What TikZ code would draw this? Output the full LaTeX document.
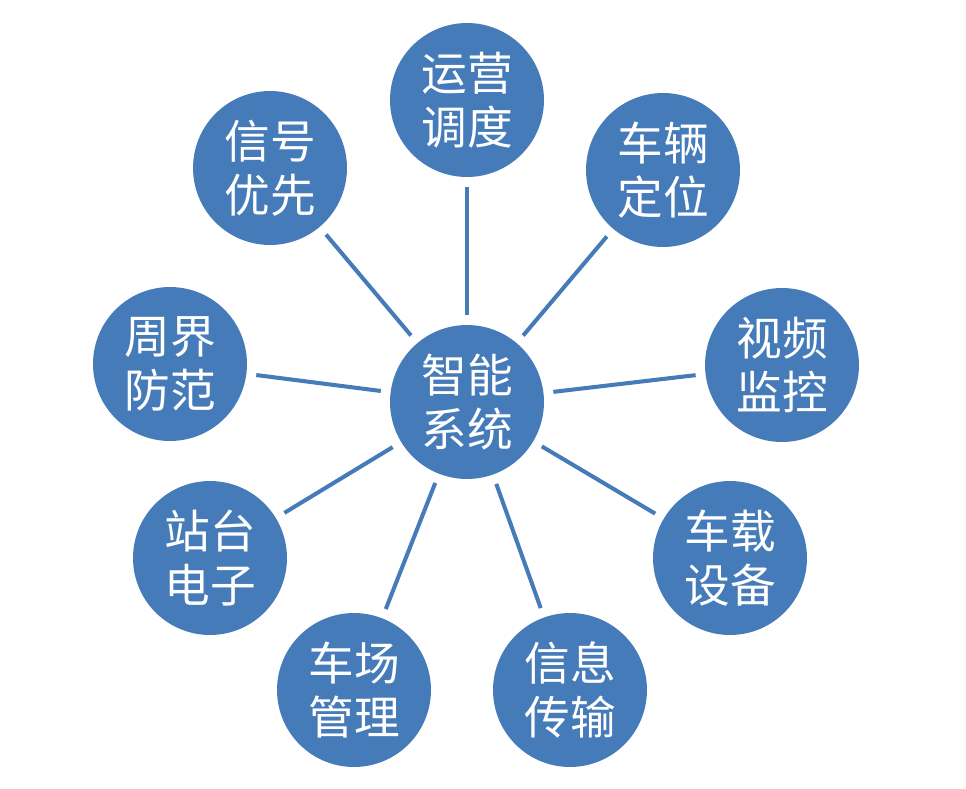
\documentclass[tikz,border=0pt]{standalone}
\usepackage{fontspec}
\newfontfamily\cjk{Noto Sans CJK SC}
\definecolor{hub-blue}{RGB}{70,123,186}
\usetikzlibrary{positioning}

\begin{document}
\begin{tikzpicture}[
    x=0.02cm, y=-0.02cm,
    disc/.style={circle, fill=hub-blue, minimum size=3.08cm, inner sep=0pt, outer sep=0.2cm, align=center, text=white, font=\cjk\fontsize{26}{31}\selectfont},
    link/.style={draw=hub-blue, line width=2.3pt}
]
\useasboundingbox (0,0) rectangle (966,788);

% Centro
\node[disc] (hub) at (467,402) {智能\\系统};

% Anel externo
\node[disc] (yunying) at (467,100) {运营\\调度};
\node[disc] (dingwei) at (663,170) {车辆\\定位};
\node[disc] (shipin) at (782,365) {视频\\监控};
\node[disc] (chezai) at (730,558) {车载\\设备};
\node[disc] (xinxi) at (570,690) {信息\\传输};
\node[disc] (chechang) at (354,690) {车场\\管理};
\node[disc] (zhantai) at (210,558) {站台\\电子};
\node[disc] (zhoujie) at (170,364) {周界\\防范};
\node[disc] (xinhao) at (270,168) {信号\\优先};

% Ligações
\foreach \n in {yunying, dingwei, shipin, chezai, xinxi, chechang, zhantai, zhoujie, xinhao}
    \draw[link] (hub) -- (\n);

\end{tikzpicture}
\end{document}
